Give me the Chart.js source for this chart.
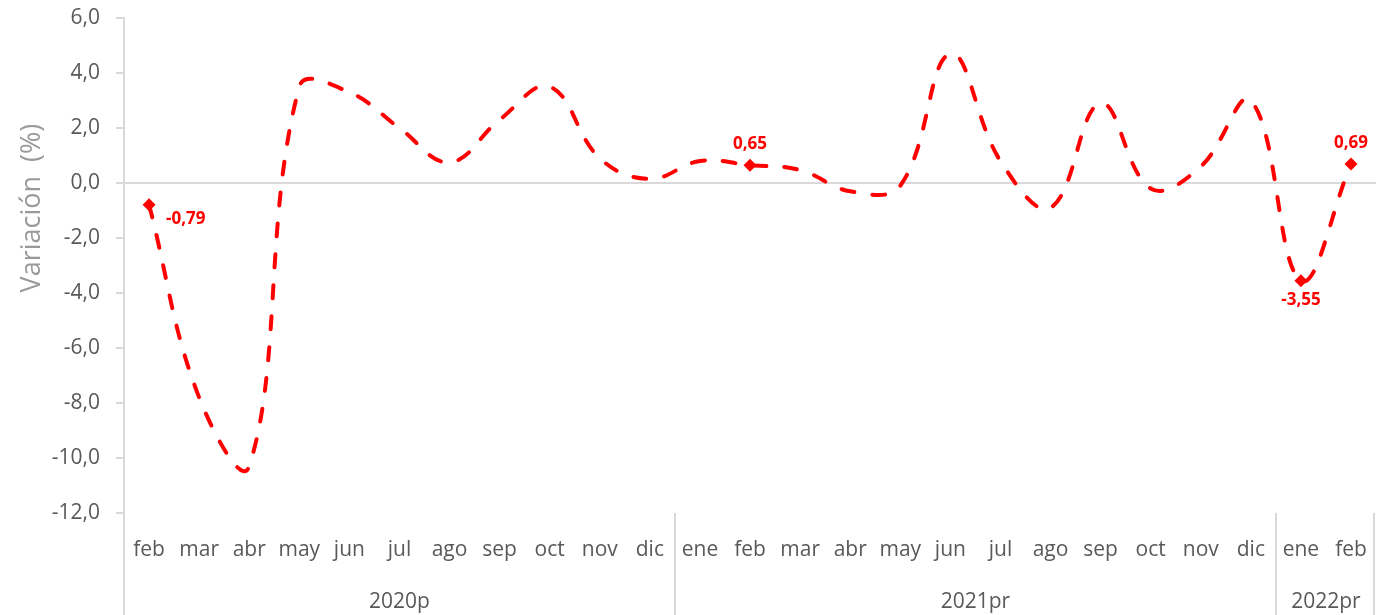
<!DOCTYPE html>
<html>
<head>
<meta charset="utf-8">
<script src="https://cdn.jsdelivr.net/npm/chart.js@4/dist/chart.umd.min.js"></script>
<style>
  html, body { margin: 0; padding: 0; background: #fff; }
  #wrap { width: 1383px; height: 615px; position: relative; }
</style>
</head>
<body>
<div id="wrap"><canvas id="chart"></canvas></div>
<script>
// ===== DATA =====
const months = ["feb","mar","abr","may","jun","jul","ago","sep","oct","nov","dic",
                "ene","feb","mar","abr","may","jun","jul","ago","sep","oct","nov","dic",
                "ene","feb"]
const values = [-0.79, -7.8, -10.3, 3.5, 3.3, 2.0, 0.75, 2.3, 3.5, 0.9, 0.15,
                0.8, 0.65, 0.47, -0.3, -0.1, 4.7, 0.8, -0.9, 2.9, -0.2, 0.6, 3.0,
                -3.55, 0.69]
const yearLabels = ["2020p", "2021pr", "2022pr"]
const yearCounts = [11, 12, 2]
const labeledIdx = [0, 12, 23, 24]
const labelSide  = ["right", "top", "bottom", "top"]
const yTicks     = [-12, -10, -8, -6, -4, -2, 0, 2, 4, 6]
const yTitle     = "Variación  (%)"

const RED  = "#ff0000"
const GRAY = "#d9d9d9"
const TXT  = "#595959"
const FONT = "'Open Sans', 'Noto Sans', sans-serif"

const fmt = v => v.toFixed(2).replace(".", ",")

// ===== PLUGINS =====
// year groups under the month labels + separators
const groupPlugin = {
  id: "groups",
  afterDraw(chart) {
    const { ctx, chartArea } = chart
    const x = chart.scales.x
    const half = (x.getPixelForValue(1) - x.getPixelForValue(0)) / 2
    const bottom = chart.height
    ctx.save()
    ctx.strokeStyle = GRAY
    ctx.lineWidth = 2
    ctx.fillStyle = TXT
    ctx.font = `21px ${FONT}`
    ctx.textAlign = "center"
    ctx.textBaseline = "middle"
    let start = 0
    yearLabels.forEach((label, i) => {
      const end   = start + yearCounts[i] - 1
      const left  = x.getPixelForValue(start) - half
      const right = x.getPixelForValue(end) + half
      ctx.beginPath()
      ctx.moveTo(Math.round(left), chartArea.bottom)
      ctx.lineTo(Math.round(left), bottom)
      if (i === yearLabels.length - 1) {
        ctx.moveTo(Math.round(right) - 2, chartArea.bottom)
        ctx.lineTo(Math.round(right) - 2, bottom)
      }
      ctx.stroke()
      ctx.fillText(label, (left + right) / 2, bottom - 13)
      start = end + 1
    })

    // y axis title (sits above the plot centre, like the original)
    ctx.translate(32, chartArea.top + (chartArea.bottom - chartArea.top) * 0.384)
    ctx.rotate(-Math.PI / 2)
    ctx.fillStyle = "#9a9a9a"
    ctx.font = `27px ${FONT}`
    ctx.fillText(yTitle, 0, 0)
    ctx.restore()
  }
}

const valueLabels = {
  id: "valueLabels",
  afterDatasetsDraw(chart) {
    const { ctx } = chart
    const meta = chart.getDatasetMeta(0)
    ctx.save()
    ctx.fillStyle = RED
    ctx.font = `bold 17px ${FONT}`
    ctx.textBaseline = "middle"
    labeledIdx.forEach((idx, k) => {
      const pt = meta.data[idx]
      const side = labelSide[k]
      const txt = fmt(values[idx])
      if (side === "right") {
        ctx.textAlign = "left"
        ctx.fillText(txt, pt.x + 17, pt.y + 14)
      } else if (side === "top") {
        ctx.textAlign = "center"
        ctx.fillText(txt, pt.x, pt.y - 21)
      } else {
        ctx.textAlign = "center"
        ctx.fillText(txt, pt.x, pt.y + 20)
      }
    })
    ctx.restore()
  }
}

// ===== CHART =====
const ctx = document.getElementById("chart").getContext("2d")
new Chart(ctx, {
  type: "line",
  data: {
    labels: months,
    datasets: [{
      data: values,
      borderColor: RED,
      borderWidth: 4,
      borderDash: [13, 18],
      borderCapStyle: "round",
      tension: 0.4,
      fill: false,
      pointStyle: "rectRot",
      pointRadius: c => labeledIdx.includes(c.dataIndex) ? 6.5 : 0,
      pointBackgroundColor: RED,
      pointBorderWidth: 0,
      clip: false
    }]
  },
  options: {
    responsive: true,
    maintainAspectRatio: false,
    animation: false,
    layout: { padding: { left: 0, right: 4, top: 18, bottom: 0 } },
    plugins: { legend: { display: false }, tooltip: { enabled: false } },
    scales: {
      x: {
        type: "category",
        offset: true,
        grid: { display: false },
        border: { display: false },
        ticks: {
          color: TXT,
          font: { family: FONT, size: 21 },
          maxRotation: 0,
          autoSkip: false,
          padding: 16
        },
        afterFit: s => { s.height = 102 }
      },
      y: {
        min: -12,
        max: 6,
        afterBuildTicks: s => { s.ticks = yTicks.map(v => ({ value: v })) },
        ticks: {
          color: TXT,
          font: { family: FONT, size: 21 },
          padding: 16,
          callback: v => v.toFixed(1).replace(".", ",")
        },
        grid: {
          color: c => c.tick && c.tick.value === 0 ? GRAY : "transparent",
          lineWidth: 2,
          tickColor: GRAY,
          tickLength: 8
        },
        border: { color: GRAY, width: 2 },
        afterFit: s => { s.width = 124; s.paddingTop = 10; s.paddingBottom = 10 }
      }
    }
  },
  plugins: [groupPlugin, valueLabels]
})
</script>
</body>
</html>
